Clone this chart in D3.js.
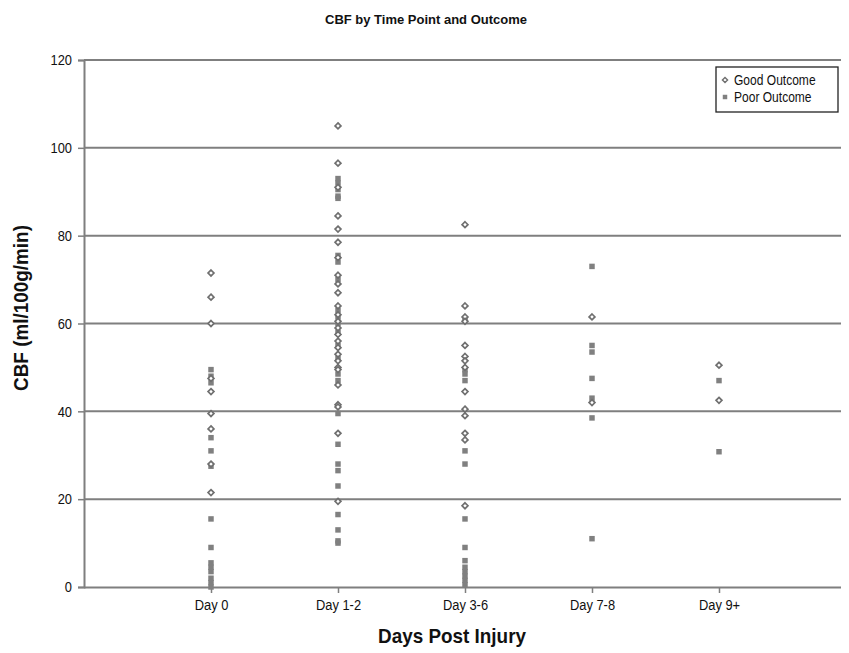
<!DOCTYPE html>
<html>
<head>
<meta charset="utf-8">
<script src="https://cdn.jsdelivr.net/npm/d3@7"></script>
<style>
  html, body { margin: 0; padding: 0; background: #fff; }
  svg { display: block; }
  text { font-family: "Liberation Sans", Arial, sans-serif; fill: #111; }
</style>
</head>
<body>
<svg id="chart" width="849" height="653"></svg>
<script>
// Categories along the x axis
const categories = ["Day 0", "Day 1-2", "Day 3-6", "Day 7-8", "Day 9+"];
const yTicks = [0, 20, 40, 60, 80, 100, 120];

// CBF values (ml/100g/min) per time point, good outcome
const goodDay0  = [71.5, 66, 60, 47.5, 44.5, 39.5, 36, 28, 21.5];
const goodDay12 = [105, 96.5, 91, 84.5, 81.5, 78.5, 75, 71, 69, 67, 64, 62, 60.5, 59, 57.5, 56, 54.5, 53, 51.5, 50, 49.5, 46, 41.5, 41, 35, 19.5];
const goodDay36 = [82.5, 64, 61.5, 60.5, 55, 52.5, 51.5, 50, 44.5, 40.5, 39, 35, 33.5, 18.5];
const goodDay78 = [61.5, 42];
const goodDay9  = [50.5, 42.5];

// CBF values per time point, poor outcome
const poorDay0  = [49.5, 48, 46.5, 34, 31, 27.5, 15.5, 9, 5.5, 4.5, 3.5, 2, 1, 0];
const poorDay12 = [93, 92, 90.5, 89, 88.5, 75.5, 74, 70, 63, 61.5, 60, 58, 55, 52, 48.5, 47, 39.5, 32.5, 28, 26.5, 23, 16.5, 13, 10.5, 10];
const poorDay36 = [61, 49.5, 48.5, 47, 31, 28, 15.5, 9, 6, 4.5, 3.5, 2.5, 1.5, 0.5];
const poorDay78 = [73, 55, 53.5, 47.5, 43, 38.5, 11];
const poorDay9  = [47, 30.8];

const goodSeries = [goodDay0, goodDay12, goodDay36, goodDay78, goodDay9];
const poorSeries = [poorDay0, poorDay12, poorDay36, poorDay78, poorDay9];

const svg = d3.select("#chart");
const plotLeft = 84, plotRight = 841, plotTop = 60, plotBottom = 587;
const narrow = 0.86;   // horizontal squeeze giving a condensed face

const x = d3.scaleLinear().domain([0, categories.length + 1]).range([plotLeft, plotLeft + 127 * 6]);
const y = d3.scaleLinear().domain([0, 120]).range([plotBottom, plotTop]);

const gridColor = "#7f7f7f";

// Horizontal gridlines
svg.append("g").selectAll("line")
  .data(yTicks.filter(t => t > 0))
  .join("line")
  .attr("x1", plotLeft).attr("x2", plotRight)
  .attr("y1", d => y(d)).attr("y2", d => y(d))
  .attr("stroke", gridColor).attr("stroke-width", 2);

// Y axis
const yAxis = d3.axisLeft(y).tickValues(yTicks).tickSize(6).tickPadding(6);
const gy = svg.append("g").attr("transform", `translate(${plotLeft},0)`).call(yAxis);
gy.select(".domain").attr("stroke", gridColor).attr("stroke-width", 2);
gy.selectAll(".tick line").attr("stroke", gridColor).attr("stroke-width", 1.5);
gy.selectAll(".tick text")
  .style("font-size", "15px").style("font-family", "\"Liberation Sans\", Arial, sans-serif")
  .attr("fill", "#111")
  .attr("transform", function() { const xx = +d3.select(this).attr("x"); return `translate(${xx * (1 - narrow)},0) scale(${narrow},1)`; });

// X axis
const xAxis = d3.axisBottom(x)
  .tickValues(categories.map((c, i) => i + 1))
  .tickFormat(d => categories[d - 1])
  .tickSize(6).tickSizeOuter(0).tickPadding(6);
const gx = svg.append("g").attr("transform", `translate(0,${plotBottom})`).call(xAxis);
gx.select(".domain").attr("d", `M${plotLeft},0.5H${plotRight}`).attr("stroke", gridColor).attr("stroke-width", 2);
gx.selectAll(".tick line").attr("stroke", gridColor).attr("stroke-width", 1.5);
gx.selectAll(".tick text")
  .style("font-size", "15px").style("font-family", "\"Liberation Sans\", Arial, sans-serif")
  .attr("fill", "#111")
  .attr("transform", `scale(${narrow},1)`);

// Diamond: a square turned 45 degrees
const diamond = {
  draw(ctx, size) {
    const r = Math.sqrt(size) / 2 * 1.15;
    ctx.moveTo(0, -r); ctx.lineTo(r, 0); ctx.lineTo(0, r); ctx.lineTo(-r, 0); ctx.closePath();
  }
};
const diamondPath = d3.symbol().type(diamond).size(26)();
const squarePath = d3.symbol().type(d3.symbolSquare).size(30)();

const markColor = "#808080";

// Poor outcome: filled grey squares
poorSeries.forEach((vals, i) => {
  svg.append("g").selectAll("path")
    .data(vals)
    .join("path")
    .attr("d", squarePath)
    .attr("transform", d => `translate(${x(i + 1)},${y(d)})`)
    .attr("fill", markColor);
});

// Good outcome: hollow diamonds
goodSeries.forEach((vals, i) => {
  svg.append("g").selectAll("path")
    .data(vals)
    .join("path")
    .attr("d", diamondPath)
    .attr("transform", d => `translate(${x(i + 1)},${y(d)})`)
    .attr("fill", "#fff")
    .attr("stroke", "#6f6f6f")
    .attr("stroke-width", 1.7);
});

// Legend
const lg = svg.append("g").attr("transform", "translate(716,67)");
lg.append("rect").attr("width", 122).attr("height", 45)
  .attr("fill", "#fff").attr("stroke", "#222").attr("stroke-width", 1.3);
lg.append("path").attr("d", d3.symbol().type(diamond).size(20)())
  .attr("transform", "translate(9,13)").attr("fill", "#fff").attr("stroke", "#6f6f6f").attr("stroke-width", 1.4);
lg.append("path").attr("d", d3.symbol().type(d3.symbolSquare).size(20)())
  .attr("transform", "translate(9,30)").attr("fill", markColor);
lg.append("text").attr("transform", `translate(18,18) scale(${narrow},1)`).text("Good Outcome").style("font-size", "14px");
lg.append("text").attr("transform", `translate(18,35) scale(${narrow},1)`).text("Poor Outcome").style("font-size", "14px");

// Titles
svg.append("text").attr("transform", "translate(426,24)").attr("text-anchor", "middle")
  .style("font-size", "13px").style("font-weight", "bold")
  .text("CBF by Time Point and Outcome");

svg.append("text").attr("transform", `translate(452,643) scale(0.9,1)`).attr("text-anchor", "middle")
  .style("font-size", "21px").style("font-weight", "bold")
  .text("Days Post Injury");

svg.append("text").attr("transform", "translate(28,308) rotate(-90) scale(0.9,1)").attr("text-anchor", "middle")
  .style("font-size", "21px").style("font-weight", "bold")
  .text("CBF (ml/100g/min)");
</script>
</body>
</html>
